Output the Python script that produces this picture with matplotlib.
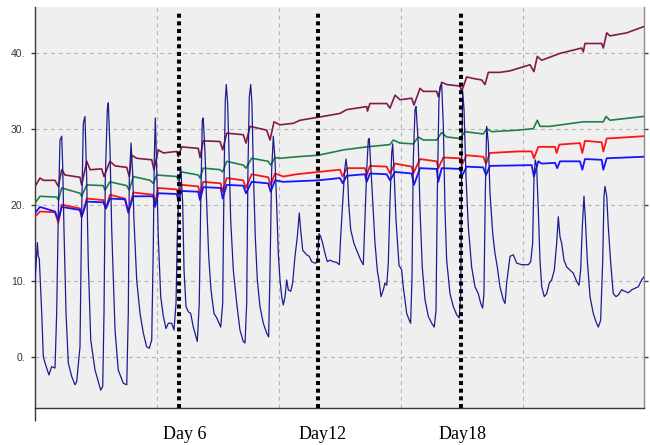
import matplotlib
matplotlib.use("Agg")
import matplotlib.pyplot as plt
import matplotlib.transforms as mtransforms

# ---- data (time in hours from the start of logging, temperature in deg C) ----
outdoor_h = [0, 2.4, 3.4, 4.4, 6.9, 8.5, 10.2, 14.3, 17.1, 20.5, 22.2, 23.9, 25.6, 27.4, 28.4,
             29.7, 31.8, 34.1, 37.6, 41.0, 42.7, 46.1, 47.8, 49.5, 51.2, 53.0, 54.6, 57.1,
             61.5, 64.9, 67.3, 69.4, 70.7, 72.0, 74.1, 75.1, 76.8, 78.6, 82.0, 85.3, 90.5,
             94.0, 95.6, 96.6, 98.4, 100.1, 101.4, 104.2, 107.6, 111.0, 114.4, 117.1, 119.6,
             121.2, 122.2, 123.3, 124.7, 126.3, 128.8, 131.5, 134.2, 136.6, 140.1, 142.4,
             144.5, 145.8, 147.8, 149.3, 151.3, 152.7, 154.7, 157.1, 159.5, 162.2, 165.0,
             166.3, 168.3, 169.8, 171.4, 172.4, 174.2, 175.9, 178.0, 180.3, 183.4, 186.2,
             190.3, 192.3, 193.6, 195.0, 196.0, 197.4, 198.8, 200.5, 203.2, 206.7, 210.0,
             213.4, 215.2, 216.9, 218.2, 219.6, 221.0, 222.3, 223.7, 225.7, 227.8, 230.5,
             233.9, 237.4, 239.4, 240.8, 242.5, 244.2, 245.9, 247.6, 249.3, 251.0, 252.8,
             254.4, 256.2, 257.9, 259.5, 262.0, 264.0, 266.4, 268.8, 270.8, 272.2, 274.3,
             278.4, 281.0, 283.5, 286.9, 289.2, 291.0, 292.7, 294.8, 297.1, 299.5, 302.3,
             305.6, 309.1, 311.8, 313.2, 315.3, 317.3, 318.7, 320.0, 321.4, 323.5, 326.8,
             330.2, 333.7, 336.4, 338.1, 339.9, 341.5, 342.5, 343.9, 346.0, 348.4, 350.7,
             352.8, 354.5, 356.9, 358.6, 360.4, 362.0, 363.7, 365.5, 366.5, 367.8, 369.9,
             373.0, 375.7, 377.3, 379.1, 380.8, 383.5, 384.9, 386.3, 387.6, 389.4, 390.4,
             392.7, 394.5, 396.8, 399.6, 403.0, 406.5, 409.1, 410.9, 412.2, 413.9, 415.0,
             416.7, 418.4, 420.1, 421.8, 425.2, 428.6, 432.1, 434.7, 436.2, 437.2, 438.2,
             439.6, 441.6, 444.0, 447.4, 450.8, 454.2, 456.7, 458.7, 460.0, 461.4, 462.8,
             464.5, 466.2, 469.0, 471.3, 473.7, 476.4, 479.8, 481.6, 483.3, 485.0, 486.7,
             490.1, 493.6, 498.7, 505.5, 507.9, 509.9, 511.3, 512.6, 514.0, 515.7, 517.4,
             519.2, 521.8, 524.3, 527.0, 529.4, 532.1, 534.5, 536.2, 537.9, 539.7, 542.0,
             544.8, 548.1, 551.5, 555.0, 557.4, 559.1, 560.8, 562.5, 563.8, 565.9, 568.7,
             572.0, 574.8, 577.2, 579.6, 581.7, 583.0, 584.0, 585.8, 587.4, 589.9, 592.5,
             595.3, 597.6, 601.1, 604.5, 607.9, 611.4, 614.8, 618.2, 621.6, 624.0]
outdoor_temp = [9.7, 15.0, 13.2, 12.9, 5.7, 0.0, -0.8, -2.4, -1.3, -1.5, 5.7, 18.9, 28.5, 29.0,
                25.0, 16.7, 5.7, -0.8, -2.6, -3.7, -3.3, 1.3, 18.9, 30.7, 31.6, 23.2, 12.3,
                2.2, -1.75, -3.3, -4.4, -3.9, 5.7, 23.2, 32.5, 33.4, 27.6, 16.7, 3.5, -1.75,
                -3.5, -3.7, 5.7, 23.2, 28.1, 24.1, 18.0, 10.1, 5.7, 3.1, 1.3, 1.1, 2.2, 14.5,
                26.0, 31.4, 24.6, 15.8, 7.9, 5.3, 3.7, 4.4, 4.4, 3.5, 7.0, 15.8, 23.2, 25.0,
                20.2, 11.4, 6.6, 5.9, 5.7, 3.9, 2.6, 2.0, 7.0, 20.2, 31.1, 31.4, 26.8, 20.2,
                13.2, 8.8, 5.7, 5.1, 3.9, 7.0, 22.4, 33.8, 35.8, 33.3, 26.8, 18.0, 11.4, 7.0,
                3.5, 2.0, 1.8, 7.0, 24.6, 34.2, 35.8, 33.3, 24.6, 15.8, 10.1, 6.6, 4.4, 3.1,
                2.6, 11.4, 24.6, 29.0, 25.9, 20.2, 13.6, 10.1, 7.9, 6.8, 7.9, 10.1, 8.8, 8.6,
                9.7, 13.2, 15.8, 18.9, 16.7, 14.0, 13.4, 13.2, 12.5, 12.3, 12.4, 16.2, 15.8,
                14.9, 13.6, 12.5, 12.7, 12.5, 12.4, 12.1, 15.8, 20.2, 24.6, 26.0, 24.6, 20.2,
                16.7, 14.9, 13.8, 12.7, 12.1, 18.0, 24.6, 28.5, 28.7, 25.4, 20.2, 14.9, 11.4,
                9.7, 7.9, 8.8, 9.7, 9.4, 12.3, 20.2, 26.8, 28.0, 24.6, 18.0, 12.0, 11.4, 9.2,
                7.5, 5.7, 4.8, 4.4, 10.5, 25.9, 32.5, 32.9, 28.1, 19.3, 11.8, 7.5, 5.3, 4.4,
                3.9, 6.1, 21.5, 33.8, 35.5, 35.8, 30.3, 19.3, 12.7, 8.3, 6.6, 5.5, 5.1, 8.3,
                25.9, 34.9, 32.5, 23.7, 17.1, 11.8, 9.2, 8.3, 7.0, 6.4, 8.3, 21.5, 30.3, 28.1,
                21.5, 16.2, 13.6, 11.8, 9.2, 7.5, 7.0, 9.7, 11.4, 13.2, 13.4, 12.3, 12.1,
                12.1, 12.5, 14.9, 23.7, 25.9, 25.0, 19.3, 12.7, 9.2, 7.9, 8.3, 9.7, 10.1,
                11.4, 14.9, 18.4, 15.8, 14.9, 12.7, 11.8, 11.4, 11.0, 9.9, 9.4, 11.4, 17.1,
                21.1, 18.4, 12.7, 7.9, 5.7, 4.6, 3.9, 4.8, 12.7, 21.1, 22.4, 21.1, 17.1, 12.3,
                8.3, 7.9, 8.1, 8.8, 8.6, 8.4, 8.8, 9.0, 9.2, 10.1, 10.5]

maroon_h = [0, 5.1, 8.5, 20.5, 23.9, 27.4, 30.7, 46.1, 47.8, 53.0, 56.4, 68.3, 70.7, 76.8,
            82.0, 94.0, 96.6, 99.1, 104.2, 119.6, 121.9, 126.3, 131.5, 145.2, 146.8, 150.3,
            167.3, 169.1, 172.4, 189.6, 192.3, 196.4, 213.4, 216.2, 220.3, 237.4, 240.8,
            244.9, 251.0, 264.7, 271.5, 290.3, 312.5, 319.4, 339.9, 340.7, 343.2, 360.4,
            363.7, 368.9, 374.0, 386.0, 388.3, 394.5, 397.9, 411.6, 413.2, 416.7, 421.8,
            435.5, 437.2, 442.3, 449.1, 457.7, 461.1, 464.5, 476.4, 486.7, 507.2, 511.2,
            514.7, 519.2, 537.9, 560.1, 561.8, 563.5, 580.6, 582.3, 585.8, 589.1, 606.3,
            623.3]
maroon_temp = [22.4, 23.5, 23.2, 23.2, 22.4, 24.6, 23.9, 23.6, 22.6, 25.7, 24.6, 24.7, 23.7,
               25.7, 25.1, 24.9, 23.7, 26.5, 26.1, 25.9, 24.6, 27.2, 26.8, 27.0, 26.3, 27.6,
               27.4, 26.2, 28.4, 28.3, 27.2, 29.4, 29.2, 28.1, 30.3, 29.8, 28.5, 30.9, 30.5,
               30.7, 31.1, 31.5, 32.0, 32.5, 32.9, 32.3, 33.3, 33.3, 32.7, 34.4, 33.8, 34.0,
               33.1, 35.3, 34.9, 34.9, 34.2, 36.1, 35.8, 35.6, 34.9, 36.8, 36.6, 36.4, 35.8,
               37.4, 37.4, 37.6, 38.4, 37.5, 39.5, 39.0, 39.9, 40.6, 40.1, 41.2, 41.2, 40.6,
               42.6, 42.2, 42.6, 43.4]

green_h = [0, 5.1, 22.2, 23.9, 27.4, 46.1, 47.8, 53.0, 70.0, 71.7, 76.8, 94.0, 96.6, 100.7,
           117.8, 121.2, 124.7, 145.2, 146.8, 150.3, 167.3, 169.1, 172.4, 189.6, 192.3,
           196.4, 213.4, 216.2, 222.0, 239.0, 241.5, 245.9, 251.0, 268.1, 290.3, 315.9,
           339.9, 363.7, 367.1, 374.0, 387.6, 392.7, 397.9, 411.6, 416.7, 421.8, 435.5,
           440.6, 459.3, 462.8, 467.9, 495.2, 510.6, 514.7, 517.4, 527.7, 561.8, 582.3,
           585.1, 589.1, 623.3]
green_temp = [20.2, 21.1, 21.0, 20.6, 22.2, 21.5, 21.1, 22.6, 22.5, 21.9, 23.0, 22.5, 21.9,
              23.7, 23.2, 22.8, 23.9, 23.7, 23.2, 24.3, 23.9, 23.5, 24.8, 24.6, 24.3, 25.7,
              25.2, 24.8, 26.1, 25.7, 25.2, 26.2, 26.1, 26.3, 26.5, 27.2, 27.6, 27.9, 28.5,
              28.1, 28.0, 28.9, 28.5, 28.5, 29.5, 28.9, 28.7, 29.6, 29.3, 30.0, 29.6, 29.8,
              30.0, 31.1, 30.3, 30.3, 30.9, 30.9, 31.6, 31.1, 31.6]

red_h = [0, 5.1, 20.5, 23.9, 27.4, 46.1, 47.8, 53.0, 70.0, 72.7, 76.8, 92.2, 95.6, 100.7,
         121.2, 123.0, 126.3, 145.2, 146.8, 150.3, 167.3, 169.1, 172.4, 190.3, 192.3, 196.4,
         213.4, 216.2, 222.0, 239.0, 241.5, 245.9, 254.4, 268.1, 290.3, 312.5, 315.3, 319.4,
         338.1, 339.9, 343.2, 360.4, 363.7, 368.9, 386.0, 387.6, 394.5, 411.6, 413.2, 418.4,
         435.5, 437.2, 442.3, 459.3, 462.1, 466.2, 495.2, 508.9, 511.2, 515.7, 532.8, 534.5,
         537.2, 558.4, 560.8, 563.5, 580.6, 582.3, 585.8, 623.3]
red_temp = [18.4, 19.1, 19.0, 17.6, 20.0, 19.5, 18.4, 20.8, 20.6, 19.5, 21.3, 20.8, 18.9,
            21.6, 21.3, 20.2, 22.2, 22.0, 21.3, 22.6, 22.4, 21.3, 23.0, 22.8, 21.7, 23.5,
            23.2, 22.2, 24.0, 23.6, 22.6, 24.1, 23.7, 24.0, 24.3, 24.6, 23.7, 24.8, 24.8,
            23.9, 25.1, 25.0, 24.1, 25.4, 25.0, 24.1, 26.0, 25.7, 24.8, 26.2, 26.1, 25.2,
            26.5, 26.3, 25.4, 26.8, 27.0, 27.0, 26.1, 27.6, 27.6, 26.8, 27.9, 28.1, 26.8,
            28.4, 28.2, 27.0, 28.7, 29.0]

blue_h = [0, 5.1, 20.5, 23.9, 27.4, 46.1, 47.8, 53.0, 70.0, 72.7, 76.8, 92.2, 95.6, 100.7,
          121.2, 123.0, 126.3, 145.2, 146.8, 150.3, 167.3, 169.1, 172.4, 190.3, 192.3, 196.4,
          213.4, 216.2, 222.0, 239.0, 241.5, 245.9, 254.4, 290.3, 312.5, 315.3, 319.4, 338.1,
          339.9, 343.2, 360.4, 363.7, 368.9, 386.0, 388.3, 394.5, 411.6, 413.2, 416.7, 435.5,
          437.2, 442.3, 459.3, 462.1, 466.2, 508.9, 511.2, 515.7, 519.2, 532.8, 535.1, 537.9,
          558.4, 560.8, 563.5, 580.6, 582.3, 585.8, 623.3]
blue_temp = [18.9, 19.7, 19.1, 18.0, 19.7, 19.3, 18.4, 20.4, 20.3, 19.5, 20.8, 20.7, 19.1,
             21.1, 21.1, 19.7, 21.5, 21.4, 20.6, 21.8, 21.7, 20.6, 22.3, 22.2, 20.8, 22.6,
             22.5, 21.5, 23.0, 22.8, 21.7, 23.2, 23.0, 23.2, 23.5, 22.8, 23.8, 24.0, 23.0,
             24.1, 24.0, 23.2, 24.3, 24.1, 22.6, 24.8, 24.7, 23.0, 24.8, 24.7, 23.7, 25.0,
             24.9, 23.9, 25.1, 25.2, 23.7, 25.7, 25.4, 25.5, 24.8, 25.7, 25.7, 24.6, 26.0,
             25.9, 24.6, 26.1, 26.3]

# day markers (hours) and their captions
day_marks = [147.5, 290.0, 436.5]
day_label_pos = [153.7, 295.1, 438.5]
day_labels = ["Day 6", "Day12", "Day18"]

y_ticks = [0, 10, 20, 30, 40]
y_tick_labels = ["0.", "10.", "20.", "30.", "40."]
x_grid = [125, 250, 375, 500]

# ---- figure ----
fig = plt.figure(figsize=(6.5, 4.45), dpi=100)
fig.patch.set_facecolor("white")
ax = fig.add_axes([35 / 650, 37 / 445, 609 / 650, 401 / 445])
ax.set_facecolor("#efefef")

ax.set_xlim(0, 624)
ax.set_ylim(-6.75, 46.0)

# grid
ax.set_yticks(y_ticks)
ax.set_yticklabels(y_tick_labels)
ax.set_xticks([0])
ax.set_xticklabels([""])
ax.set_xticks(x_grid, minor=True)
grid_kw = dict(color="#b4b4b4", linewidth=0.8, linestyle=(0, (3.5, 3.5)))
ax.grid(True, axis="y", which="major", **grid_kw)
ax.grid(True, axis="x", which="minor", **grid_kw)
ax.set_axisbelow(True)

# spines and ticks
ax.spines["top"].set_visible(False)
ax.spines["left"].set_color("#3a3a3a")
ax.spines["bottom"].set_color("#3a3a3a")
ax.spines["right"].set_color("#8a8a8a")
for s in ("left", "bottom", "right"):
    ax.spines[s].set_linewidth(1.0)
ax.tick_params(axis="y", which="major", direction="out", length=3, width=1,
               color="#3a3a3a", labelsize=7.5, labelcolor="#333333", pad=4,
               right=True, labelright=False)
ax.tick_params(axis="x", which="major", direction="out", length=9, width=1,
               color="#3a3a3a")
ax.tick_params(axis="x", which="minor", length=0)
for lab in ax.get_yticklabels():
    lab.set_fontfamily("Liberation Sans")

# series
ax.plot(maroon_h, maroon_temp, color="#7f1a4c", linewidth=1.2, zorder=3)
ax.plot(green_h, green_temp, color="#1e8048", linewidth=1.2, zorder=3)
ax.plot(red_h, red_temp, color="#ff1414", linewidth=1.3, zorder=3)
ax.plot(blue_h, blue_temp, color="#1414ff", linewidth=1.3, zorder=3)
ax.plot(outdoor_h, outdoor_temp, color="#1c1c8e", linewidth=0.9, zorder=4)

# day markers
for xm in day_marks:
    ax.axvline(xm, ymin=0, ymax=0.985, color="black", linewidth=2.9,
               linestyle=(0, (1.0, 0.9)), zorder=5)

trans = mtransforms.blended_transform_factory(ax.transData, fig.transFigure)
for xl, txt in zip(day_label_pos, day_labels):
    ax.text(xl, 6 / 445, txt, transform=trans, ha="center", va="baseline",
            fontsize=13, fontfamily="Liberation Serif", color="black", clip_on=False)

fig.savefig("out.png", dpi=100, facecolor="white")
